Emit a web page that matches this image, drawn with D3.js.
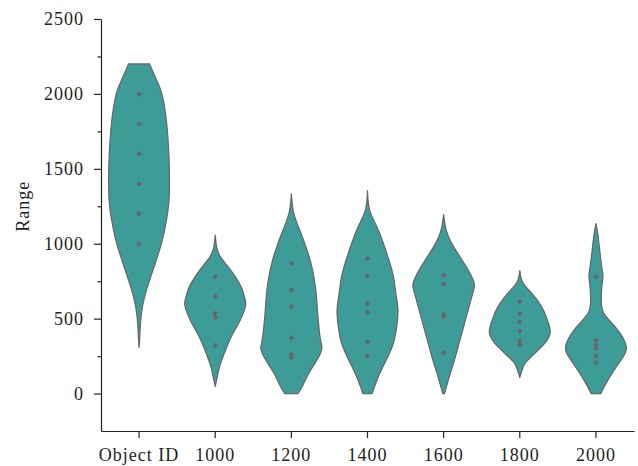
<!DOCTYPE html>
<html>
<head>
<meta charset="utf-8">
<script src="https://cdn.jsdelivr.net/npm/d3@7"></script>
<style>
  body { margin: 0; background: #fff; }
  .axis text { font-family: "Liberation Serif", serif; font-size: 18px; letter-spacing: 1px; fill: #222; }
  .axis path, .axis line { stroke: #222; stroke-width: 1.2; }
</style>
</head>
<body>
<div id="chart"></div>
<script>
const categories = ["Object ID", "1000", "1200", "1400", "1600", "1800", "2000"]

// observed values (the diamonds)
const pointsObjectId = [1000, 1200, 1400, 1600, 1800, 2000]
const points1000 = [780, 650, 535, 510, 320]
const points1200 = [870, 690, 580, 370, 260, 240]
const points1400 = [900, 785, 600, 545, 345, 250]
const points1600 = [790, 730, 530, 515, 270]
const points1800 = [615, 535, 480, 415, 350, 325]
const points2000 = [780, 355, 325, 300, 250, 205]

// violin outlines: [range value, relative density]
const densityObjectId = [[305, 0], [367, 0.02], [479, 0.05], [590, 0.12], [702, 0.26], [835, 0.475], [991, 0.72], [1103, 0.85], [1258, 0.97], [1414, 1.0], [1593, 0.98], [1815, 0.9], [2000, 0.75], [2100, 0.56], [2200, 0.344]]
const density1000 = [[47, 0], [124, 0.08], [191, 0.16], [258, 0.28], [325, 0.41], [392, 0.56], [458, 0.74], [525, 0.9], [592, 1.0], [637, 0.97], [704, 0.87], [770, 0.69], [837, 0.46], [904, 0.2], [971, 0.055], [1060, 0]]
const density1200 = [[0, 0.22], [56, 0.38], [145, 0.6], [234, 0.87], [300, 1.0], [345, 0.97], [434, 0.91], [545, 0.86], [657, 0.82], [768, 0.75], [880, 0.63], [991, 0.46], [1103, 0.25], [1214, 0.066], [1337, 0]]
const density1400 = [[0, 0.15], [114, 0.36], [225, 0.62], [336, 0.85], [448, 0.96], [559, 1.0], [670, 0.93], [782, 0.85], [893, 0.7], [1004, 0.52], [1116, 0.3], [1227, 0.066], [1356, 0]]
const density1600 = [[0, 0.03], [44, 0.09], [122, 0.2], [234, 0.37], [345, 0.52], [456, 0.67], [568, 0.82], [679, 0.97], [746, 0.99], [857, 0.71], [969, 0.36], [1080, 0.1], [1196, 0]]
const density1800 = [[109, 0], [165, 0.09], [209, 0.2], [276, 0.53], [343, 0.85], [410, 1.0], [476, 0.93], [543, 0.81], [610, 0.62], [677, 0.36], [744, 0.09], [822, 0]]
const density2000 = [[0, 0.16], [56, 0.3], [145, 0.56], [234, 0.86], [301, 1.0], [367, 0.9], [434, 0.68], [523, 0.3], [600, 0.18], [702, 0.19], [779, 0.23], [835, 0.2], [946, 0.13], [1058, 0.066], [1136, 0]]

const yMajorTicks = [0, 500, 1000, 1500, 2000, 2500]
const yMinorTicks = [250, 750, 1250, 1750, 2250]

const groups = categories.map((c, i) => ({
    name: c,
    points: [pointsObjectId, points1000, points1200, points1400, points1600, points1800, points2000][i],
    density: [densityObjectId, density1000, density1200, density1400, density1600, density1800, density2000][i]
}))

const width = 638, height = 466
const margin = { top: 19, right: 4, bottom: 35, left: 101 }

const xScale = d3.scaleBand().domain(categories).range([margin.left, width - margin.right]).padding(0)
const yScale = d3.scaleLinear().domain([-250, 2500]).range([height - margin.bottom, margin.top])
const wScale = d3.scaleLinear().domain([0, 1]).range([0, xScale.bandwidth() * 0.4]).clamp(true)

const svg = d3.select("#chart")
    .append("svg")
    .attr("width", width)
    .attr("height", height)

// minor ticks first so the major axis draws over them
svg.append("g")
    .attr("class", "axis")
    .attr("transform", `translate(${margin.left},0)`)
    .call(d3.axisLeft(yScale).tickValues(yMinorTicks).tickSize(3.5).tickFormat(""))
    .select(".domain").remove()

svg.append("g")
    .attr("class", "axis")
    .attr("transform", `translate(${margin.left},0)`)
    .call(d3.axisLeft(yScale).tickValues(yMajorTicks).tickFormat(d3.format("d")).tickSize(7).tickPadding(10).tickSizeOuter(0))

svg.append("g")
    .attr("class", "axis")
    .attr("transform", `translate(0,${height - margin.bottom})`)
    .call(d3.axisBottom(xScale).tickSize(7).tickPadding(10).tickSizeOuter(0))

svg.append("text")
    .attr("transform", `translate(29,${yScale(1250)}) rotate(-90)`)
    .attr("text-anchor", "middle")
    .style("font-family", "'Liberation Serif', serif")
    .style("font-size", "18px")
    .style("letter-spacing", "1px")
    .style("fill", "#222")
    .text("Range")

const violin = svg.selectAll(".violin")
    .data(groups)
    .enter().append("g")
    .attr("class", "violin")
    .attr("transform", d => `translate(${xScale(d.name) + xScale.bandwidth() / 2},0)`)

const area = d3.area()
    .y(d => yScale(d[0]))
    .x0(d => -wScale(d[1]))
    .x1(d => wScale(d[1]))
    .curve(d3.curveNatural)

violin.append("path")
    .attr("d", d => area(d.density))
    .attr("fill", "#3d9b98")
    .attr("stroke", "#666")
    .attr("stroke-width", 1.2)

violin.selectAll(".dot")
    .data(d => d.points)
    .enter().append("path")
    .attr("class", "dot")
    .attr("d", d3.symbol(d3.symbolSquare, 15))
    .attr("transform", d => `translate(0,${yScale(d)}) rotate(45)`)
    .attr("fill", "#666")
</script>
</body>
</html>
